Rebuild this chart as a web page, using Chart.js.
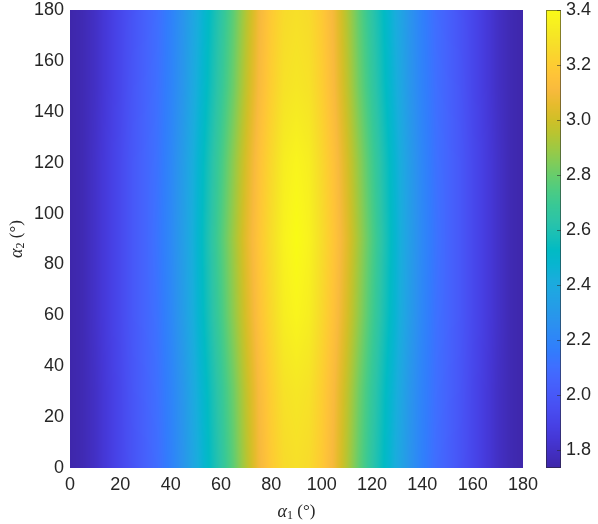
<!DOCTYPE html>
<html>
<head>
<meta charset="utf-8">
<script src="https://cdn.jsdelivr.net/npm/chart.js@4.4.1/dist/chart.umd.min.js"></script>
<style>
  html, body { margin: 0; padding: 0; background: #fff; }
  #wrap { width: 598px; height: 524px; }
</style>
</head>
<body>
<div id="wrap"><canvas id="heat" width="598" height="524"></canvas></div>
<script>
'use strict';

// ── Data ─────────────────────────────────────────────────────────────────────
// grid columns: alpha1 (deg), grid rows: alpha2 (deg)
const ALPHA1 = [0, 5, 10, 15, 20, 25, 30, 35, 40, 45, 50, 55, 60, 65, 70, 75, 80, 85, 90,
                95, 100, 105, 110, 115, 120, 125, 130, 135, 140, 145, 150, 155, 160, 165, 170, 175, 180];
const ALPHA2 = [0, 30, 60, 90, 120, 150, 180];

const ROW_A2_0   = [1.74, 1.76, 1.80, 1.86, 1.92, 1.98, 2.04, 2.10, 2.18, 2.28, 2.40, 2.52, 2.64, 2.78, 2.94, 3.09, 3.19, 3.26, 3.28,
                    3.26, 3.19, 3.09, 2.94, 2.78, 2.64, 2.52, 2.40, 2.28, 2.18, 2.10, 2.04, 1.98, 1.92, 1.86, 1.80, 1.76, 1.74];
const ROW_A2_30  = [1.74, 1.76, 1.80, 1.86, 1.92, 1.99, 2.05, 2.11, 2.19, 2.29, 2.42, 2.54, 2.67, 2.81, 2.97, 3.11, 3.21, 3.29, 3.31,
                    3.29, 3.21, 3.11, 2.97, 2.81, 2.67, 2.54, 2.42, 2.29, 2.19, 2.11, 2.05, 1.99, 1.92, 1.86, 1.80, 1.76, 1.74];
const ROW_A2_60  = [1.74, 1.76, 1.81, 1.87, 1.93, 2.00, 2.06, 2.12, 2.21, 2.32, 2.45, 2.58, 2.72, 2.87, 3.02, 3.15, 3.25, 3.34, 3.37,
                    3.34, 3.25, 3.15, 3.02, 2.87, 2.72, 2.58, 2.45, 2.32, 2.21, 2.12, 2.06, 2.00, 1.93, 1.87, 1.81, 1.76, 1.74];
const ROW_A2_90  = [1.74, 1.76, 1.81, 1.87, 1.93, 2.00, 2.06, 2.13, 2.22, 2.33, 2.46, 2.60, 2.75, 2.90, 3.05, 3.17, 3.27, 3.36, 3.40,
                    3.36, 3.27, 3.17, 3.05, 2.90, 2.75, 2.60, 2.46, 2.33, 2.22, 2.13, 2.06, 2.00, 1.93, 1.87, 1.81, 1.76, 1.74];
const ROW_A2_120 = [1.74, 1.76, 1.81, 1.87, 1.93, 2.00, 2.06, 2.12, 2.21, 2.32, 2.45, 2.58, 2.72, 2.87, 3.02, 3.15, 3.25, 3.34, 3.37,
                    3.34, 3.25, 3.15, 3.02, 2.87, 2.72, 2.58, 2.45, 2.32, 2.21, 2.12, 2.06, 2.00, 1.93, 1.87, 1.81, 1.76, 1.74];
const ROW_A2_150 = [1.74, 1.76, 1.80, 1.86, 1.92, 1.99, 2.05, 2.11, 2.19, 2.29, 2.42, 2.54, 2.67, 2.81, 2.97, 3.11, 3.21, 3.29, 3.31,
                    3.29, 3.21, 3.11, 2.97, 2.81, 2.67, 2.54, 2.42, 2.29, 2.19, 2.11, 2.05, 1.99, 1.92, 1.86, 1.80, 1.76, 1.74];
const ROW_A2_180 = [1.74, 1.76, 1.80, 1.86, 1.92, 1.98, 2.04, 2.10, 2.18, 2.28, 2.40, 2.52, 2.64, 2.78, 2.94, 3.09, 3.19, 3.26, 3.28,
                    3.26, 3.19, 3.09, 2.94, 2.78, 2.64, 2.52, 2.40, 2.28, 2.18, 2.10, 2.04, 1.98, 1.92, 1.86, 1.80, 1.76, 1.74];

const GRID = [ROW_A2_0, ROW_A2_30, ROW_A2_60, ROW_A2_90, ROW_A2_120, ROW_A2_150, ROW_A2_180];

const AXIS_MIN = 0;
const AXIS_MAX = 180;
const AXIS_STEP = 20;
const CB_MIN = 1.735;
const CB_MAX = 3.4;
const CB_TICKS = [1.8, 2.0, 2.2, 2.4, 2.6, 2.8, 3.0, 3.2, 3.4];

// axis labels: [symbol, subscript, rest]
const X_LABEL = ['α', '1', ' (°)'];
const Y_LABEL = ['α', '2', ' (°)'];

// parula colormap (every other entry of the 64-colour table)
const PARULA = [
  [0.2422, 0.1504, 0.6603], [0.2578, 0.1818, 0.7511], [0.2706, 0.2147, 0.8364], [0.2783, 0.2559, 0.8991],
  [0.2813, 0.3006, 0.9414], [0.2795, 0.3447, 0.9717], [0.2699, 0.3892, 0.9906], [0.2440, 0.4358, 0.9988],
  [0.1963, 0.4847, 0.9892], [0.1786, 0.5289, 0.9682], [0.1687, 0.5703, 0.9359], [0.1460, 0.6091, 0.9079],
  [0.1248, 0.6459, 0.8883], [0.0952, 0.6798, 0.8598], [0.0297, 0.7082, 0.8163], [0.0067, 0.7312, 0.7660],
  [0.0964, 0.7500, 0.7120], [0.1717, 0.7670, 0.6554], [0.2161, 0.7843, 0.5923], [0.2906, 0.7973, 0.5188],
  [0.3909, 0.8029, 0.4354], [0.5044, 0.7993, 0.3480], [0.6174, 0.7876, 0.2612], [0.7242, 0.7698, 0.1910],
  [0.8203, 0.7498, 0.1535], [0.9035, 0.7330, 0.1774], [0.9728, 0.7298, 0.2394], [0.9970, 0.7659, 0.2199],
  [0.9892, 0.8136, 0.1885], [0.9697, 0.8639, 0.1650], [0.9631, 0.9135, 0.1396], [0.9772, 0.9606, 0.1121],
];
const PARULA_LAST = [0.9769, 0.9839, 0.0805];
const PARULA_POS = PARULA.map((_, i) => (2 * i) / 63).concat([1]);
const PARULA_RGB = PARULA.concat([PARULA_LAST]);

const TEXT_COLOR = '#262626';
const SERIF = "'Liberation Serif', 'DejaVu Serif', serif";

// ── Helpers ──────────────────────────────────────────────────────────────────
function parula(t) {
  t = Math.min(1, Math.max(0, t));
  let k = 0;
  while (k < PARULA_POS.length - 2 && t > PARULA_POS[k + 1]) k++;
  const f = (t - PARULA_POS[k]) / (PARULA_POS[k + 1] - PARULA_POS[k]);
  const a = PARULA_RGB[k], b = PARULA_RGB[k + 1];
  return [0, 1, 2].map(c => Math.round(255 * (a[c] + (b[c] - a[c]) * f)));
}

function locate(arr, v) {
  let i = 0;
  while (i < arr.length - 2 && v > arr[i + 1]) i++;
  const f = (v - arr[i]) / (arr[i + 1] - arr[i]);
  return [i, Math.min(1, Math.max(0, f))];
}

function sampleGrid(a1, a2) {
  const [i, fx] = locate(ALPHA1, a1);
  const [j, fy] = locate(ALPHA2, a2);
  const r0 = GRID[j], r1 = GRID[j + 1];
  const lo = r0[i] + (r0[i + 1] - r0[i]) * fx;
  const hi = r1[i] + (r1[i + 1] - r1[i]) * fx;
  return lo + (hi - lo) * fy;
}

function norm(v) {
  return (v - CB_MIN) / (CB_MAX - CB_MIN);
}

// LaTeX-like label: italic symbol, upright subscript, upright rest
function drawMathLabel(ctx, label, cx, cy, rotation) {
  const parts = [
    { text: label[0], font: `italic 18px ${SERIF}`, dy: 0 },
    { text: label[1], font: `12px ${SERIF}`, dy: 4 },
    { text: label[2], font: `17px ${SERIF}`, dy: 0 },
  ];
  ctx.save();
  ctx.translate(cx, cy);
  ctx.rotate(rotation);
  ctx.fillStyle = TEXT_COLOR;
  ctx.textBaseline = 'middle';
  ctx.textAlign = 'left';
  const widths = parts.map(p => { ctx.font = p.font; return ctx.measureText(p.text).width; });
  let x = -widths.reduce((s, w) => s + w, 0) / 2;
  parts.forEach((p, i) => {
    ctx.font = p.font;
    ctx.fillText(p.text, x, p.dy);
    x += widths[i];
  });
  ctx.restore();
}

// ── Plugin: shaded surface + colour bar + axis labels ────────────────────────
const heatmapPlugin = {
  id: 'heatmap',
  beforeDatasetsDraw(chart) {
    const { ctx, chartArea: a, scales: { x, y, cb } } = chart;
    const left = Math.round(a.left), top = Math.round(a.top);
    const w = Math.round(a.right) - left, h = Math.round(a.bottom) - top;
    const img = ctx.createImageData(w, h);
    for (let j = 0; j < h; j++) {
      const v2 = y.getValueForPixel(top + j + 0.5);
      for (let i = 0; i < w; i++) {
        const v1 = x.getValueForPixel(left + i + 0.5);
        const c = parula(norm(sampleGrid(v1, v2)));
        const k = (j * w + i) * 4;
        img.data[k] = c[0];
        img.data[k + 1] = c[1];
        img.data[k + 2] = c[2];
        img.data[k + 3] = 255;
      }
    }
    ctx.putImageData(img, left, top);

    // colour bar strip
    const x0 = Math.round(cb.left) + 23, x1 = x0 + 15;
    const cTop = Math.round(cb.top), cBot = Math.round(cb.bottom);
    for (let py = cTop; py < cBot; py++) {
      const c = parula(norm(cb.getValueForPixel(py + 0.5)));
      ctx.fillStyle = `rgb(${c[0]},${c[1]},${c[2]})`;
      ctx.fillRect(x0, py, x1 - x0, 1);
    }
    ctx.save();
    ctx.strokeStyle = 'rgba(38,38,38,0.55)';
    ctx.lineWidth = 1;
    ctx.strokeRect(x0 + 0.5, cTop + 0.5, x1 - x0 - 1, cBot - cTop - 1);
    ctx.beginPath();
    CB_TICKS.forEach(v => {
      const py = Math.round(cb.getPixelForValue(v)) + 0.5;
      ctx.moveTo(x1 - 4, py);
      ctx.lineTo(x1, py);
    });
    ctx.stroke();
    ctx.restore();
  },
  afterDraw(chart) {
    const { ctx, scales: { x, y } } = chart;
    drawMathLabel(ctx, X_LABEL, (x.left + x.right) / 2, x.bottom - 12, 0);
    drawMathLabel(ctx, Y_LABEL, y.left + 17, (y.top + y.bottom) / 2, -Math.PI / 2);
  },
};

// ── Chart setup ──────────────────────────────────────────────────────────────
const tickFont = { family: "'Liberation Sans', Arial, sans-serif", size: 18 };

new Chart(document.getElementById('heat').getContext('2d'), {
  type: 'scatter',
  data: { datasets: [] },
  plugins: [heatmapPlugin],
  options: {
    responsive: false,
    animation: false,
    events: [],
    layout: { padding: { top: 10, right: 0, bottom: 0, left: 0 } },
    plugins: { legend: { display: false }, tooltip: { enabled: false } },
    scales: {
      x: {
        type: 'linear',
        position: 'bottom',
        min: AXIS_MIN,
        max: AXIS_MAX,
        grid: { display: false, drawTicks: false },
        border: { display: false },
        ticks: { stepSize: AXIS_STEP, padding: 6, color: TEXT_COLOR, font: tickFont, maxRotation: 0 },
        afterFit(s) { s.height = 56; s.paddingLeft = 0; s.paddingRight = 0; },
      },
      y: {
        type: 'linear',
        position: 'left',
        min: AXIS_MIN,
        max: AXIS_MAX,
        grid: { display: false, drawTicks: false },
        border: { display: false },
        ticks: { stepSize: AXIS_STEP, padding: 6, color: TEXT_COLOR, font: tickFont },
        afterFit(s) { s.width = 70; s.paddingTop = 0; s.paddingBottom = 0; },
      },
      cb: {
        type: 'linear',
        position: 'right',
        min: CB_MIN,
        max: CB_MAX,
        grid: { display: false, drawTicks: false },
        border: { display: false },
        ticks: { padding: 43, color: TEXT_COLOR, font: tickFont, callback: v => Number(v).toFixed(1) },
        afterBuildTicks(s) { s.ticks = CB_TICKS.map(v => ({ value: v })); },
        afterFit(s) { s.width = 75; s.paddingTop = 0; s.paddingBottom = 0; },
      },
    },
  },
});
</script>
</body>
</html>
